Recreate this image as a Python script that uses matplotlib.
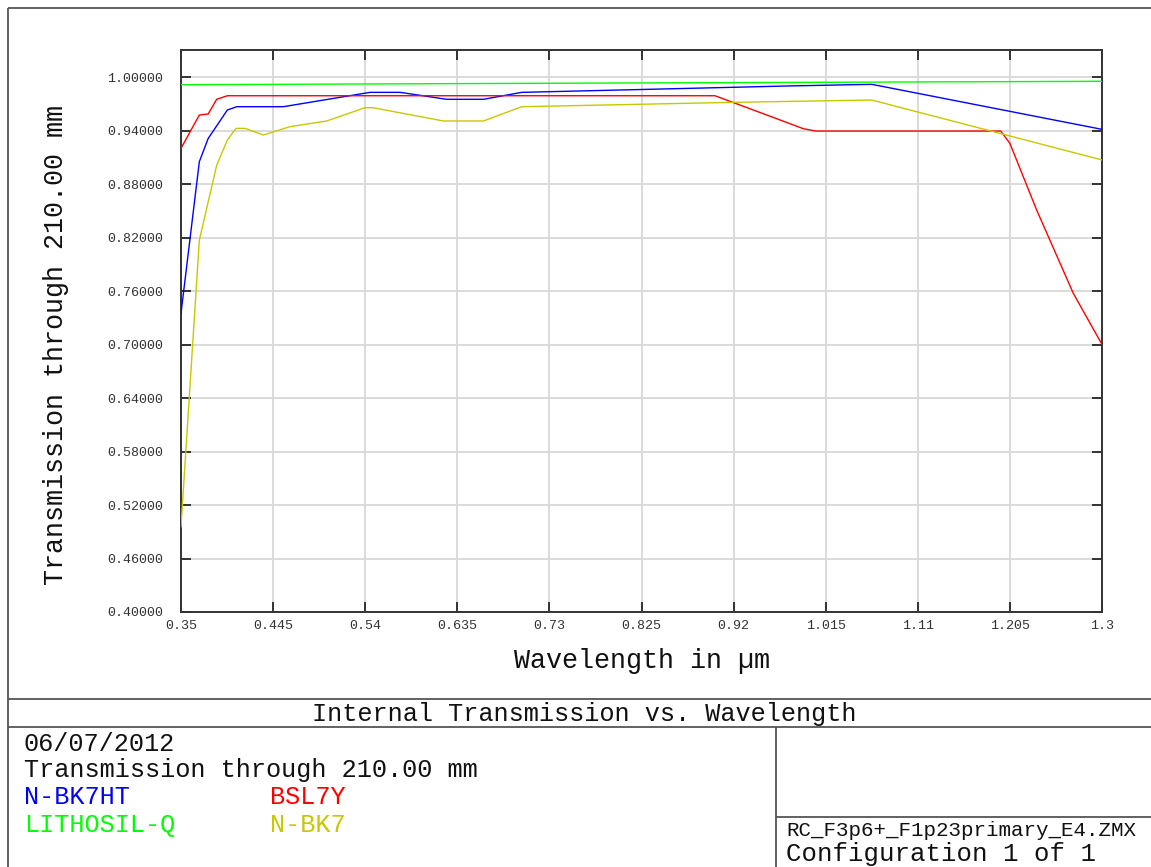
import matplotlib
matplotlib.use("Agg")
import matplotlib.pyplot as plt

plt.rcParams["font.family"] = ["Liberation Mono", "DejaVu Sans Mono"]

# ---- data -------------------------------------------------------------
nbk7ht_wl = [0.35, 0.3689, 0.378, 0.3978, 0.4075, 0.4555, 0.545, 0.576,
             0.624, 0.662, 0.7014, 0.978, 1.0625, 1.30]
nbk7ht_t = [0.735, 0.905, 0.931, 0.963, 0.9667, 0.9667, 0.9828, 0.9828,
            0.975, 0.975, 0.9828, 0.990, 0.9918, 0.9413]

bsl7y_wl = [0.35, 0.3689, 0.378, 0.3868, 0.3978, 0.9008, 0.968, 0.992,
            1.005, 1.1955, 1.2050, 1.2326, 1.2704, 1.30]
bsl7y_t = [0.920, 0.9574, 0.9585, 0.975, 0.979, 0.979, 0.9518, 0.9420,
           0.9394, 0.9394, 0.9256, 0.8508, 0.7574, 0.700]

lithosil_wl = [0.35, 0.73, 1.30]
lithosil_t = [0.9914, 0.9930, 0.9952]

nbk7_wl = [0.35, 0.3689, 0.3868, 0.3978, 0.4067, 0.416, 0.435, 0.4624,
           0.5003, 0.5398, 0.548, 0.6206, 0.662, 0.7014, 0.9198, 1.0625, 1.30]
nbk7_t = [0.4957, 0.817, 0.901, 0.9293, 0.9424, 0.9424, 0.935, 0.9443,
          0.9507, 0.9656, 0.9656, 0.9507, 0.9507, 0.9667, 0.9716, 0.9742, 0.907]

x_ticks = [0.35, 0.445, 0.54, 0.635, 0.73, 0.825, 0.92, 1.015, 1.11, 1.205, 1.3]
x_tick_labels = ["0.35", "0.445", "0.54", "0.635", "0.73", "0.825", "0.92",
                 "1.015", "1.11", "1.205", "1.3"]
y_ticks = [0.40, 0.46, 0.52, 0.58, 0.64, 0.70, 0.76, 0.82, 0.88, 0.94, 1.00]

series = [
    ("N-BK7HT", nbk7ht_wl, nbk7ht_t, "#0000ff"),
    ("BSL7Y", bsl7y_wl, bsl7y_t, "#ff0000"),
    ("LITHOSIL-Q", lithosil_wl, lithosil_t, "#00ff00"),
    ("N-BK7", nbk7_wl, nbk7_t, "#c8c800"),
]

# ---- figure -----------------------------------------------------------
W, H = 1151, 867
fig = plt.figure(figsize=(W / 100, H / 100), dpi=100)

ax = fig.add_axes([181 / W, 1 - 612 / H, 921 / W, 562 / H])
for name, wl, t, col in series:
    ax.plot(wl, t, color=col, lw=1.0, zorder=3)

ax.set_xlim(0.35, 1.30)
ax.set_ylim(0.40, 1.0303)
ax.set_xticks(x_ticks)
ax.set_xticklabels(x_tick_labels)
ax.set_yticks(y_ticks)
ax.set_yticklabels([f"{v:.5f}" for v in y_ticks])
ax.set_axisbelow(True)
ax.grid(True, color="#dadada", lw=1.4)
ax.tick_params(direction="in", length=7.2, width=1.4, color="#333333",
               top=True, right=True, labelsize=9.6, labelcolor="#333333")
ax.tick_params(axis="x", pad=6)
ax.tick_params(axis="y", pad=13)
for sp in ax.spines.values():
    sp.set_color("#333333")
    sp.set_linewidth(1.4)

# axis titles
fig.text(641.5 / W, 1 - 668 / H, "Wavelength in µm", fontsize=19.3,
         ha="center", va="baseline", color="#111111")
fig.text(56 / W, 1 - 345 / H, "Transmission through 210.00 mm", fontsize=19.3,
         rotation=90, ha="center", va="center", color="#111111")

# ---- frame and info block ----------------------------------------------
ov = fig.add_axes([0, 0, 1, 1], zorder=-1)
ov.set_xlim(0, W)
ov.set_ylim(H, 0)
ov.axis("off")

frame_col = "#555555"
for xs, ys in [([8, 8], [8, H]), ([8, W], [8, 8]),
               ([8, W], [699.3, 699.3]), ([8, W], [727.3, 727.3]),
               ([776, 776], [727.3, H]), ([776, W], [816.7, 816.7])]:
    ov.plot(xs, ys, color=frame_col, lw=1.3, solid_capstyle="butt")

info_size = 18.2
ov.text(584, 721, "Internal Transmission vs. Wavelength", fontsize=info_size,
        ha="center", va="baseline", color="#111111")
ov.text(24, 751, "06/07/2012", fontsize=info_size, ha="left", va="baseline",
        color="#111111")
ov.text(24, 777.5, "Transmission through 210.00 mm", fontsize=info_size,
        ha="left", va="baseline", color="#111111")

legend_pos = [(24, 804.5), (270, 804.5), (24, 832), (270, 832)]
for (name, wl, t, col), (lx, ly) in zip(series, legend_pos):
    ov.text(lx, ly, name, fontsize=info_size, ha="left", va="baseline",
            color=col)

ov.text(786, 836.5, "RC_F3p6+_F1p23primary_E4.ZMX", fontsize=15.0,
        ha="left", va="baseline", color="#111111")
ov.text(786, 861, "Configuration 1 of 1", fontsize=18.5, ha="left",
        va="baseline", color="#111111")

fig.savefig("out.png", dpi=100, facecolor="white")
